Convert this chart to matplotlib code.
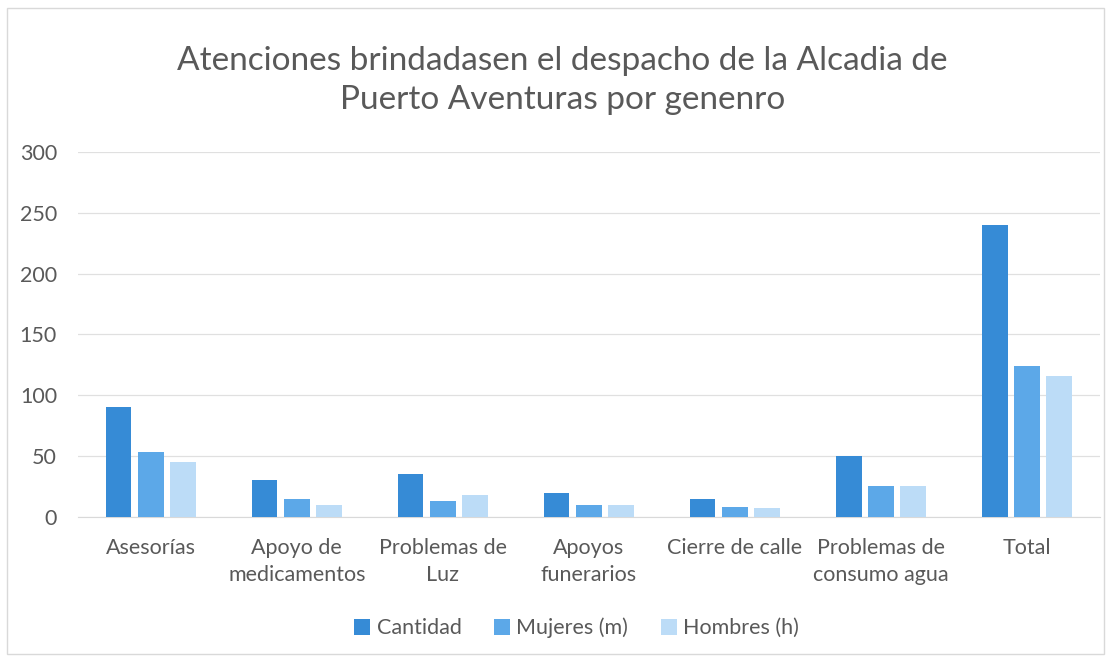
import matplotlib
matplotlib.use("Agg")
import matplotlib.pyplot as plt
import numpy as np
from matplotlib.patches import Rectangle

categories = ["Asesorías", "Apoyo de\nmedicamentos", "Problemas de\nLuz", "Apoyos\nfunerarios",
              "Cierre de calle", "Problemas de\nconsumo agua", "Total"]
cantidad = [90, 30, 35, 20, 15, 50, 240]
mujeres = [53, 15, 13, 10, 8, 25, 124]
hombres = [45, 10, 18, 10, 7, 25, 116]
series_names = ["Cantidad", "Mujeres (m)", "Hombres (h)"]
title = "Atenciones brindadasen el despacho de la Alcadia de\nPuerto Aventuras por genenro"

plt.rcParams['font.family'] = ['Lato', 'DejaVu Sans']
txt = '#595959'

fig = plt.figure(figsize=(11.11, 6.61), dpi=100)
fig.patch.set_facecolor('white')
fig.add_artist(Rectangle((0.006, 0.01), 0.988, 0.978, transform=fig.transFigure,
                         fill=False, edgecolor='#d9d9d9', lw=1))
ax = fig.add_axes([0.070, 0.218, 0.920, 0.552])

x = np.arange(len(categories))
w = 0.175
off = 0.22
colors = ['#368bd6', '#5ca8e8', '#bcdcf7']
for i, (vals, c, n) in enumerate(zip([cantidad, mujeres, hombres], colors, series_names)):
    ax.bar(x + (i - 1) * off, vals, w, color=c, label=n, zorder=3)

ax.set_ylim(0, 300)
ax.set_yticks(range(0, 301, 50))
ax.set_xlim(-0.5, len(categories) - 0.5)
ax.set_xticks(x)
ax.set_xticklabels(categories, fontsize=15.5, color=txt, linespacing=1.45)
ax.tick_params(axis='y', labelsize=15.5, labelcolor=txt, length=0, pad=15)
ax.tick_params(axis='x', length=0, pad=15)
ax.grid(axis='y', color='#e0e0e0', lw=0.9, zorder=0)
for s in ['top', 'right', 'left']:
    ax.spines[s].set_visible(False)
ax.spines['bottom'].set_color('#d9d9d9')

fig.text(0.506, 0.878, title, ha='center', va='center', fontsize=24, color=txt, linespacing=1.38)

fig.legend(loc='center', bbox_to_anchor=(0.519, 0.05), ncol=3, frameon=False,
           fontsize=15.5, labelcolor=txt, handlelength=0.75, handleheight=0.75,
           handletextpad=0.3, columnspacing=1.5)

fig.savefig('out.png', dpi=100, facecolor='white')
